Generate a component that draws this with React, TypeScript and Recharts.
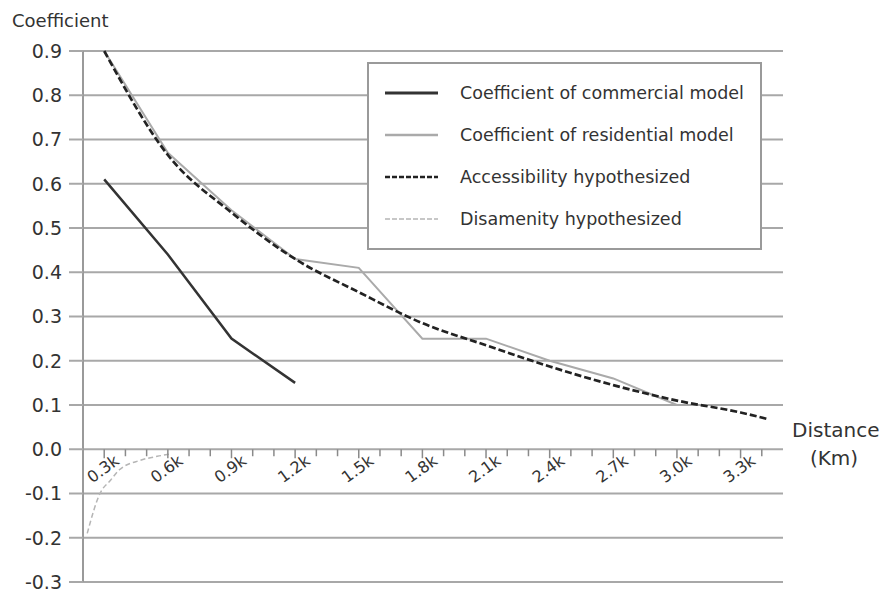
import { LineChart, Line, XAxis, YAxis, CartesianGrid, Legend } from "recharts";

// distances in km, coefficients
const DISTANCES = [0.3, 0.6, 0.9, 1.2, 1.5, 1.8, 2.1, 2.4, 2.7, 3.0];
const COMMERCIAL = [0.61, 0.44, 0.25, 0.15];
const RESIDENTIAL = [0.9, 0.67, 0.54, 0.43, 0.41, 0.25, 0.25, 0.2, 0.16, 0.1];
const ACCESS_DIST = [0.3, 0.6, 0.9, 1.2, 1.5, 1.8, 2.1, 2.4, 2.7, 3.0, 3.3, 3.43];
const ACCESS = [0.9, 0.665, 0.535, 0.43, 0.355, 0.285, 0.235, 0.187, 0.145, 0.11, 0.083, 0.068];
const DISAMENITY_DIST = [0.22, 0.28, 0.33, 0.37, 0.47, 0.55, 0.61];
const DISAMENITY = [-0.19, -0.1, -0.07, -0.047, -0.025, -0.016, -0.011];

const Y_TICKS = [-0.3, -0.2, -0.1, 0, 0.1, 0.2, 0.3, 0.4, 0.5, 0.6, 0.7, 0.8, 0.9];
const X_TICKS = [
  0.3, 0.4, 0.5, 0.6, 0.7, 0.8, 0.9, 1.0, 1.1, 1.2, 1.3, 1.4, 1.5, 1.6, 1.7, 1.8,
  1.9, 2.0, 2.1, 2.2, 2.3, 2.4, 2.5, 2.6, 2.7, 2.8, 2.9, 3.0, 3.1, 3.2, 3.3, 3.4,
];
const X_LABELS = ["0.3k", "0.6k", "0.9k", "1.2k", "1.5k", "1.8k", "2.1k", "2.4k", "2.7k", "3.0k", "3.3k"];

const commercialData = COMMERCIAL.map((v, i) => ({ d: DISTANCES[i], v }));
const residentialData = RESIDENTIAL.map((v, i) => ({ d: DISTANCES[i], v }));
const accessData = ACCESS.map((v, i) => ({ d: ACCESS_DIST[i], v }));
const disamenityData = DISAMENITY.map((v, i) => ({ d: DISAMENITY_DIST[i], v }));

const W = 882;
const H = 599;
const TOP = 51;
const BOTTOM = 17;
const X_AXIS_H = 1;
const Y_AXIS_W = 83;
const Y_MIN = -0.3;
const Y_MAX = 0.9;
// the x axis sits on the 0.0 line, not at the bottom of the plot
const ZERO_Y = TOP + ((H - TOP - BOTTOM) * Y_MAX) / (Y_MAX - Y_MIN);

const XTick = ({ x, payload }: any) => {
  const v: number = payload.value;
  const label = X_LABELS.find((l) => Math.abs(parseFloat(l) - v) < 0.001);
  const tx = x + 2;
  const ty = ZERO_Y + 24;
  return (
    <g>
      <line x1={x} x2={x} y1={ZERO_Y} y2={ZERO_Y + (label ? 9 : 7)} stroke="#8a8a8a" strokeWidth={1.5} />
      {label && (
        <text x={tx} y={ty} textAnchor="middle" fontSize={16} fill="#333" transform={`rotate(-36 ${tx} ${ty})`}>
          {label}
        </text>
      )}
    </g>
  );
};

const YTick = ({ y, payload }: any) => (
  <text x={Y_AXIS_W - 21} y={y} dy="0.36em" textAnchor="end" fontSize={19} fill="#333">
    {Number(payload.value).toFixed(1)}
  </text>
);

const LEGEND_ITEMS = [
  { name: "Coefficient of commercial model", color: "#333", width: 3, dash: undefined },
  { name: "Coefficient of residential model", color: "#aaa", width: 2.5, dash: undefined },
  { name: "Accessibility hypothesized", color: "#222", width: 2.5, dash: "5 2" },
  { name: "Disamenity hypothesized", color: "#b5b5b5", width: 1.5, dash: "5 2" },
];

const LegendBox = () => (
  <div
    style={{
      boxSizing: "border-box",
      width: 395,
      height: 188,
      border: "2px solid #9a9a9a",
      background: "#fff",
      paddingTop: 8,
    }}
  >
    {LEGEND_ITEMS.map((it) => (
      <div key={it.name} style={{ display: "flex", alignItems: "center", height: 42 }}>
        <svg width={53} height={10} style={{ marginLeft: 16 }}>
          <line x1={0} x2={53} y1={5} y2={5} stroke={it.color} strokeWidth={it.width} strokeDasharray={it.dash} />
        </svg>
        <span style={{ marginLeft: 22, fontSize: 17.5, color: "#333", whiteSpace: "nowrap" }}>{it.name}</span>
      </div>
    ))}
  </div>
);

export default function App() {
  return (
    <div style={{ position: "absolute", left: 0, top: 0, width: W, height: H, fontFamily: "'DejaVu Sans', sans-serif", background: "#fff" }}>
      <LineChart width={W} height={H} margin={{ top: TOP, right: 99, bottom: BOTTOM - X_AXIS_H, left: 0 }}>
        <CartesianGrid vertical={false} stroke="#a8a8a8" strokeWidth={2} />
        <XAxis
          type="number"
          dataKey="d"
          domain={[0.2, 3.5]}
          ticks={X_TICKS}
          interval={0}
          height={X_AXIS_H}
          axisLine={false}
          tickLine={false}
          tick={(p: any) => <XTick {...p} />}
        />
        <YAxis
          type="number"
          domain={[Y_MIN, Y_MAX]}
          ticks={Y_TICKS}
          width={Y_AXIS_W}
          tickSize={14}
          interval={0}
          tick={(p: any) => <YTick {...p} />}
          axisLine={{ stroke: "#9a9a9a", strokeWidth: 2 }}
          tickLine={{ stroke: "#a8a8a8", strokeWidth: 2 }}
        />
        <Line data={disamenityData} dataKey="v" type="monotone" stroke="#b5b5b5" strokeWidth={1.5} strokeDasharray="5 3" dot={false} isAnimationActive={false} />
        <Line data={residentialData} dataKey="v" type="linear" stroke="#aaa" strokeWidth={2} dot={false} isAnimationActive={false} />
        <Line data={accessData} dataKey="v" type="monotone" stroke="#222" strokeWidth={2.7} strokeDasharray="7 3" dot={false} isAnimationActive={false} />
        <Line data={commercialData} dataKey="v" type="linear" stroke="#333" strokeWidth={2.5} dot={false} isAnimationActive={false} />
        <Legend
          layout="vertical"
          align="center"
          verticalAlign="middle"
          wrapperStyle={{ left: 367, top: 62, width: 395, height: 188 }}
          content={() => <LegendBox />}
        />
        <text x={12} y={27} fontSize={18} fill="#333">Coefficient</text>
        <text x={792} y={437} fontSize={20} fill="#333">Distance</text>
        <text x={834} y={465} fontSize={20} fill="#333" textAnchor="middle">(Km)</text>
      </LineChart>
    </div>
  );
}
